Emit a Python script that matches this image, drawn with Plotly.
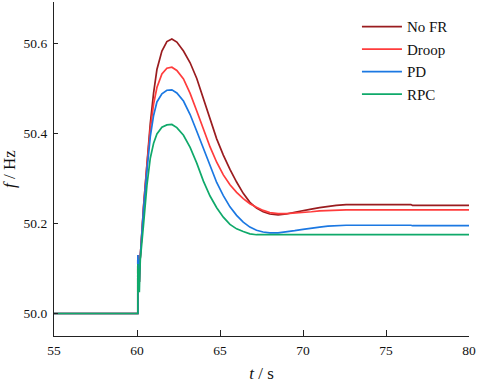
import plotly.graph_objects as go

# time axis (s)
t = [55, 60.05, 60.05, 60.08, 60.11, 60.14, 60.17, 60.2, 60.4, 60.6, 60.8, 61.0,
     61.2, 61.5, 61.8, 62.1, 62.4, 62.8, 63.2, 63.6, 64.0, 64.4, 64.8, 65.2,
     65.6, 66.0, 66.4, 66.8, 67.2, 67.6, 68.0, 68.5, 69.0, 69.5, 70.0, 70.5,
     71.0, 71.5, 72.0, 72.6, 76.5, 76.6, 80]

no_fr = [50.0, 50.0, 50.13, 50.08, 50.12, 50.07, 50.11, 50.13, 50.24, 50.332, 50.422, 50.49,
         50.542, 50.583, 50.604, 50.61, 50.603, 50.583, 50.557, 50.522, 50.478, 50.432, 50.388, 50.352,
         50.320, 50.292, 50.267, 50.247, 50.234, 50.226, 50.221, 50.219, 50.221, 50.225, 50.229, 50.232,
         50.235, 50.238, 50.240, 50.242, 50.242, 50.240, 50.240]

droop = [50.0, 50.0, 50.13, 50.08, 50.12, 50.07, 50.11, 50.13, 50.24, 50.33, 50.41, 50.465,
         50.502, 50.532, 50.545, 50.547, 50.54, 50.521, 50.489, 50.450, 50.41, 50.37, 50.336, 50.308,
         50.286, 50.269, 50.255, 50.244, 50.236, 50.229, 50.224, 50.222, 50.222, 50.223, 50.224, 50.226,
         50.228, 50.229, 50.230, 50.230, 50.230, 50.230, 50.230]

pd_ = [50.0, 50.0, 50.13, 50.08, 50.12, 50.07, 50.11, 50.13, 50.235, 50.318, 50.393, 50.44,
       50.47, 50.488, 50.496, 50.497, 50.49, 50.472, 50.442, 50.405, 50.366, 50.327, 50.291, 50.262,
       50.237, 50.218, 50.203, 50.192, 50.185, 50.181, 50.179, 50.179, 50.181, 50.184, 50.187, 50.19,
       50.192, 50.194, 50.195, 50.196, 50.196, 50.195, 50.195]

rpc = [50.0, 50.0, 50.11, 50.05, 50.10, 50.047, 50.09, 50.12, 50.2, 50.285, 50.345, 50.378,
       50.399, 50.414, 50.419, 50.42, 50.413, 50.396, 50.369, 50.334, 50.294, 50.261, 50.235, 50.214,
       50.198, 50.188, 50.182, 50.177, 50.175, 50.175, 50.175, 50.175, 50.175, 50.175, 50.175, 50.175,
       50.175, 50.175, 50.175, 50.175, 50.175, 50.175, 50.175]

names = ["No FR", "Droop", "PD", "RPC"]
colors = ["#9a1c1f", "#ff3c3c", "#1b78e2", "#0fa96a"]
series = [no_fr, droop, pd_, rpc]

x_ticks = [55, 60, 65, 70, 75, 80]
y_ticks = [50.0, 50.2, 50.4, 50.6]

fig = go.Figure()
for name, color, ys in zip(names, colors, series):
    fig.add_trace(go.Scatter(x=t, y=ys, mode="lines", name=name,
                             line=dict(color=color, width=1.7)))

font_family = "Times New Roman, Liberation Serif, serif"
fig.update_layout(
    width=477, height=383,
    margin=dict(l=54, r=8, t=2, b=47),
    paper_bgcolor="white", plot_bgcolor="white",
    font=dict(family=font_family, color="#111", size=13.5),
    showlegend=True,
    legend=dict(x=0.73, y=0.975, xanchor="left", yanchor="top",
                font=dict(size=15, family=font_family, color="#111"),
                itemwidth=40,
                bgcolor="rgba(0,0,0,0)", tracegroupgap=0),
)
fig.update_xaxes(range=[55, 80], tickvals=x_ticks, ticks="inside", ticklen=6,
                 tickcolor="#222", tickwidth=1.3, automargin=False,
                 showline=True, linecolor="#222", linewidth=1.3, showgrid=False,
                 zeroline=False, tickfont=dict(size=13.5, family=font_family),
                 ticklabeloverflow="allow", ticklabelstandoff=2,
                 title=dict(text="<i>t</i> / s", font=dict(size=17, family=font_family), standoff=14))
fig.update_yaxes(range=[49.95, 50.692], tickvals=y_ticks, tickformat=".1f",
                 ticks="inside", ticklen=4, tickcolor="#222", tickwidth=1.3, automargin=False,
                 showline=True, linecolor="#222", linewidth=1.3, showgrid=False,
                 zeroline=False, tickfont=dict(size=13.5, family=font_family),
                 ticklabelstandoff=3,
                 title=dict(text="<i>f</i> / Hz", font=dict(size=17, family=font_family), standoff=4))

fig.write_html("out.html", config={"displayModeBar": False},
               post_script="document.body.style.margin='0';document.body.style.padding='0';")
